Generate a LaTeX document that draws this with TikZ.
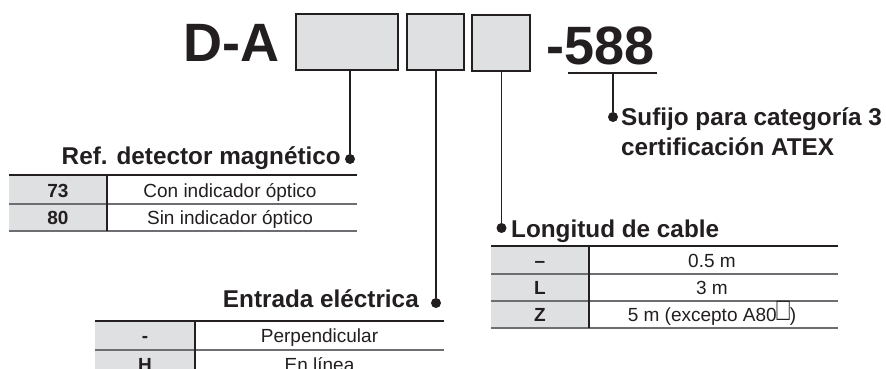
\documentclass[tikz,border=0pt]{standalone}
\usepackage{fontspec}
\usepackage{graphicx}
\setmainfont{Liberation Sans}
\definecolor{ink}{HTML}{231F20}
\definecolor{boxgray}{HTML}{DFE0E2}
\definecolor{rulegray}{HTML}{6D6E71}
\tikzset{
  codebox/.style={draw=ink, line width=2.2pt, fill=boxgray, inner sep=0pt},
  conn/.style={draw=ink, line width=1.6pt},
  dotn/.style={circle, fill=ink, inner sep=0pt, minimum size=10pt},
  head/.style={font=\fontsize{24.3}{24.3}\selectfont\bfseries, text=ink, inner sep=0pt},
  big/.style={font=\fontsize{54}{54}\selectfont\bfseries, text=ink, inner sep=0pt, anchor=base west},
  cell/.style={font=\fontsize{19}{19}\selectfont, text=ink, inner sep=0pt, anchor=base},
  codecell/.style={font=\fontsize{19}{19}\selectfont\bfseries, text=ink, inner sep=0pt, anchor=base},
  toprule/.style={draw=ink, line width=2.2pt},
  midrule/.style={draw=rulegray, line width=1.1pt},
  vrule/.style={draw=ink, line width=1.1pt},
  colfill/.style={fill=boxgray},
}
\begin{document}
\begin{tikzpicture}[x=1pt,y=-1pt]
\clip (0,0) rectangle (886,369);
\fill[white] (0,0) rectangle (886,369);

% title
\node[big] (da) at (183,62) {D-A};
\node[codebox, minimum width=102pt, minimum height=56pt] (b1) at (347,42) {};
\node[codebox, minimum width=57pt, minimum height=56pt] (b2) at (435.5,42) {};
\node[codebox, minimum width=58pt, minimum height=56pt] (b3) at (501,43) {};
\node[big] (suf) at (546,64) {-588};
\coordinate (ul) at (568,73);
\coordinate (ur) at (657,73);
\draw[conn] (ul) -- (ur);

% dots
\node[dotn] (d1) at (350,159) {};
\node[dotn] (d2) at (436,303) {};
\node[dotn] (d3) at (501.5,228) {};
\node[dotn] (d4) at (613,117) {};
\coordinate (u4) at (613,73);

% connectors
\draw[conn] (b1.south -| d1) -- (d1);
\draw[conn] (b2.south -| d2) -- (d2);
\draw[conn] (b3.south -| d3) -- (d3);
\draw[conn] (u4) -- (d4);

% headings
\node[head, anchor=base east] (h1) at (341,164) {Ref. detector magnético};
\node[head, anchor=base east] (h2) at (419,307) {Entrada eléctrica};
\node[head, anchor=base west] (h3) at (511,237) {Longitud de cable};
\node[head, anchor=base west] (h4a) at (621,125) {Sufijo para categoría 3};
\node[head, anchor=base west] (h4b) at (621,155) {certificación ATEX};

% table: Ref. detector
\fill[colfill] (9,175) rectangle (107,231);
\draw[midrule] (9,204) -- (357,204);
\draw[midrule] (9,231) -- (357,231);
\draw[vrule] (107,175) -- (107,231);
\draw[toprule] (9,175) -- (357,175);
\node[codecell] (r1c) at (58,197) {73};
\node[cell] (r1t) at (230,197) {Con indicador óptico};
\node[codecell] (r2c) at (58,224.5) {80};
\node[cell] (r2t) at (230,224.5) {Sin indicador óptico};

% table: Longitud de cable
\fill[colfill] (491,246) rectangle (589,328);
\draw[midrule] (491,274) -- (838,274);
\draw[midrule] (491,301) -- (838,301);
\draw[midrule] (491,328) -- (838,328);
\draw[vrule] (589,246) -- (589,328);
\draw[toprule] (491,246) -- (838,246);
\node[codecell] (l1c) at (540,267) {–};
\node[cell] (l1t) at (712,267) {0.5 m};
\node[codecell] (l2c) at (540,294.5) {L};
\node[cell] (l2t) at (712,294.5) {3 m};
\node[codecell] (l3c) at (540,321.5) {Z};
\node[cell] (l3t) at (712,321.5) {5 m (excepto A80\raisebox{0.6pt}{\scalebox{1.15}[1.7]{□}})};

% table: Entrada eléctrica
\fill[colfill] (95,321) rectangle (195,380);
\draw[midrule] (95,350) -- (444,350);
\draw[vrule] (195,321) -- (195,380);
\draw[toprule] (95,321) -- (444,321);
\node[codecell] (e1c) at (145,342.5) {-};
\node[cell] (e1t) at (319.5,342.5) {Perpendicular};
\node[codecell] (e2c) at (145,371) {H};
\node[cell] (e2t) at (319.5,371) {En línea};
\end{tikzpicture}
\end{document}
